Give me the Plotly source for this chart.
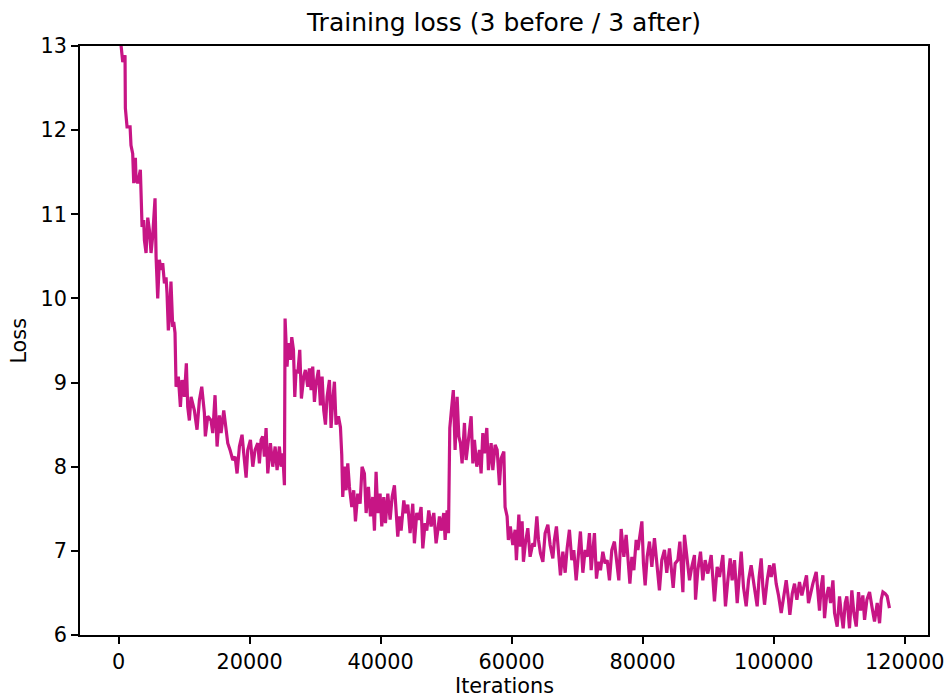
import plotly.graph_objects as go

# Loss curve, read in four stretches separated by the restarts
iter_a = [0, 380, 640, 990, 1040, 1300, 1760, 1900, 2160, 2320, 2570, 2670, 2930, 3330, 3440, 3590,
          3840, 3950, 4200, 4460, 4710, 4960, 5200, 5570, 5730, 5980, 6230, 6490, 6740, 7000, 7250,
          7400, 7600, 7760, 8000, 8270, 8420, 8620, 8780, 9130, 9440, 9690, 10050, 10350, 10560,
          10810, 11070, 11570, 11980, 12340, 12700, 13100, 13250, 13620, 14120, 14380, 14730, 15040,
          15390, 15650, 16060, 16410, 16670, 17020, 17430, 17790, 18090, 18450, 18850, 19110, 19470,
          19720, 20130, 20490, 20840, 21250, 21500, 21760, 22010, 22260, 22520, 22780, 23180, 23540,
          23900, 24200, 24550, 24810, 25060, 25320]
loss_a = [13.3, 13.0, 12.81, 12.89, 12.26, 12.04, 12.04, 11.82, 11.72, 11.37, 11.67, 11.41, 11.37,
          11.53, 11.29, 10.85, 10.93, 10.69, 10.54, 10.96, 10.81, 10.54, 10.73, 11.19, 10.49, 10.0,
          10.46, 10.34, 10.42, 10.18, 10.25, 10.06, 9.62, 9.74, 10.2, 9.66, 9.72, 9.59, 8.95, 9.07,
          8.71, 9.03, 8.83, 9.23, 8.71, 8.55, 8.83, 8.67, 8.44, 8.79, 8.95, 8.64, 8.36, 8.6, 8.55,
          8.4, 8.85, 8.24, 8.61, 8.4, 8.67, 8.47, 8.28, 8.2, 8.08, 8.12, 7.92, 8.24, 8.38, 8.16, 7.87,
          8.2, 8.32, 8.0, 8.2, 8.28, 8.04, 8.32, 8.36, 8.12, 8.46, 7.92, 8.28, 8.0, 8.24, 7.96, 8.24,
          8.0, 8.16, 7.78]

iter_b = [25420, 25720, 25930, 26230, 26440, 26700, 26900, 27100, 27360, 27660, 27910, 28270, 28520,
          28880, 29130, 29390, 29640, 29900, 30150, 30510, 30810, 31070, 31320, 31580, 31830, 32190,
          32440, 32700, 32950, 33200, 33560, 33870, 34070, 34220, 34480, 34730, 34990, 35240, 35600,
          35900, 36160, 36510, 36870, 37170, 37530, 37790, 38140, 38450, 38800, 39060, 39310, 39570,
          39920, 40180, 40480, 40740, 41100, 41450, 41760, 42110, 42370, 42620, 42880, 43130, 43540,
          43800, 44150, 44500, 44910, 45160, 45520, 45830, 46180, 46440, 46790, 47050, 47350, 47710,
          48120, 48470, 48730, 48980, 49240, 49640, 49850, 50150, 50360]
loss_b = [9.76, 9.19, 9.47, 9.27, 9.54, 9.39, 8.83, 9.15, 9.11, 9.39, 8.81, 9.07, 9.15, 8.95, 9.17,
          8.91, 9.19, 8.77, 8.99, 9.15, 8.73, 9.07, 8.67, 8.5, 8.83, 9.03, 8.46, 8.79, 9.01, 8.5, 8.6,
          8.47, 8.14, 7.64, 8.0, 7.72, 8.04, 7.76, 7.52, 7.72, 7.35, 7.68, 7.56, 8.0, 7.92, 7.45, 7.76,
          7.41, 7.64, 7.24, 7.94, 7.45, 7.68, 7.29, 7.64, 7.33, 7.68, 7.37, 7.64, 7.78, 7.52, 7.17,
          7.41, 7.24, 7.6, 7.45, 7.55, 7.21, 7.56, 7.09, 7.45, 7.37, 7.52, 7.03, 7.33, 7.24, 7.48,
          7.29, 7.45, 7.09, 7.24, 7.41, 7.24, 7.45, 7.13, 7.48, 7.21]

iter_c = [50560, 50760, 51100, 51370, 51680, 51940, 52180, 52440, 52800, 53050, 53400, 53820, 54080,
          54320, 54680, 55090, 55340, 55600, 55850, 56210, 56460, 56870, 57130, 57480, 57790, 58140,
          58400, 58810]
loss_c = [8.46, 8.63, 8.91, 8.2, 8.83, 8.36, 8.28, 8.04, 8.52, 8.08, 8.36, 8.6, 8.04, 8.32, 8.0, 8.2,
          7.92, 8.4, 8.16, 8.46, 7.96, 8.28, 7.96, 8.26, 8.2, 7.78, 8.1, 8.18]

iter_d = [59000, 59310, 59500, 59800, 60180, 60530, 60730, 61100, 61340, 61600, 61800, 62100, 62470,
          62820, 63240, 63480, 63850, 64100, 64400, 64770, 65110, 65530, 65880, 66290, 66530, 66840,
          67150, 67450, 67820, 68170, 68470, 68820, 69180, 69490, 69850, 70200, 70500, 70870, 71220,
          71530, 71880, 72140, 72640, 72950, 73250, 73560, 73920, 74270, 74580, 74930, 75290, 75690,
          76050, 76360, 76720, 77130, 77480, 77740, 78050, 78350, 78660, 79010, 79270, 79880, 80120,
          80380, 80690, 81040, 81400, 81800, 82160, 82560, 82920, 83330, 83680, 84090, 84350, 84660,
          84960, 85370, 85680, 85880, 86140, 86380, 86790, 87150, 87500, 87910, 88070, 88420, 88830,
          89180, 89540, 89950, 90460, 90960, 91370, 91730, 92240, 92640, 93000, 93360, 93660, 94020,
          94430, 94780, 95040, 95390, 95800, 96160, 96560, 96970, 97480, 97780, 98090, 98350, 98600,
          99010, 99370, 99620, 100030, 100380, 100740, 101150, 101560, 101910, 102260, 102470, 102830,
          103180, 103540, 103940, 104300, 104700, 105010, 105310, 105730, 105980, 106490, 106750,
          106990, 107250, 107510, 107760, 108070, 108370, 108680, 109040, 109290, 109690, 110050,
          110310, 110610, 110920, 111170, 111570, 111930, 112240, 112600, 112950, 113260, 113610,
          113870, 114230, 114630, 114990, 115390, 115800, 116160, 116410, 116670, 117020, 117320,
          117670]
loss_d = [7.52, 7.41, 7.13, 7.29, 7.07, 7.25, 6.89, 7.43, 7.05, 7.35, 6.87, 7.09, 7.27, 6.93, 7.09,
          7.05, 7.41, 7.13, 6.97, 6.87, 7.21, 7.31, 7.07, 6.91, 7.13, 7.29, 6.99, 6.71, 6.99, 6.74,
          7.03, 7.25, 6.89, 7.01, 6.65, 6.99, 7.23, 6.74, 7.01, 6.93, 7.21, 6.77, 7.21, 6.67, 6.87,
          6.77, 6.99, 6.85, 6.89, 6.65, 7.01, 7.11, 6.87, 6.65, 7.26, 6.93, 7.19, 6.87, 6.61, 6.93,
          6.77, 7.13, 7.01, 7.35, 6.85, 6.59, 6.93, 7.11, 6.81, 7.15, 6.85, 6.53, 6.89, 7.01, 6.74,
          7.03, 6.81, 6.56, 6.85, 6.89, 7.11, 6.77, 6.51, 7.19, 6.85, 6.65, 6.81, 6.95, 6.42, 6.77,
          6.99, 6.65, 6.89, 6.73, 6.95, 6.4, 6.81, 6.69, 6.95, 6.34, 6.65, 6.91, 6.65, 6.89, 6.38,
          6.69, 6.99, 6.57, 6.34, 6.65, 6.83, 6.61, 6.34, 6.69, 6.91, 6.57, 6.36, 6.65, 6.83, 6.69,
          6.85, 6.61, 6.47, 6.26, 6.49, 6.65, 6.42, 6.24, 6.49, 6.61, 6.42, 6.63, 6.47, 6.61, 6.71,
          6.38, 6.53, 6.61, 6.75, 6.49, 6.29, 6.57, 6.71, 6.2, 6.46, 6.57, 6.38, 6.65, 6.26, 6.1,
          6.46, 6.26, 6.08, 6.38, 6.46, 6.08, 6.53, 6.26, 6.1, 6.51, 6.29, 6.47, 6.18, 6.42, 6.51,
          6.34, 6.16, 6.38, 6.14, 6.42, 6.51, 6.49, 6.46, 6.32]

iterations = iter_a + iter_b + iter_c + iter_d
loss = loss_a + loss_b + loss_c + loss_d

x_ticks = [0, 20000, 40000, 60000, 80000, 100000, 120000]
y_ticks = [6, 7, 8, 9, 10, 11, 12, 13]

FONT = "DejaVu Sans"
TICK_SIZE = 20.8
LINE_COLOR = "#C71585"

fig = go.Figure()
fig.add_trace(go.Scatter(
    x=iterations, y=loss, mode="lines",
    line=dict(color=LINE_COLOR, width=3.2),
    showlegend=False, hoverinfo="skip",
))

span = max(iterations) - min(iterations)
pad = 0.05 * span

axis_common = dict(
    showgrid=False, zeroline=False, automargin=False,
    showline=True, mirror=True, linecolor="black", linewidth=1.7,
    ticks="outside", ticklen=7, tickwidth=1.7, tickcolor="black",
    tickfont=dict(family=FONT, size=TICK_SIZE, color="black"),
    ticklabeloverflow="allow",
)

fig.update_layout(
    width=944, height=698,
    margin=dict(l=80, r=16, t=46, b=63),
    paper_bgcolor="white", plot_bgcolor="white",
    font=dict(family=FONT, color="black"),
    title=dict(text="Training loss (3 before / 3 after)", x=0.5339, xanchor="center",
               y=1 - 22 / 698, yanchor="middle", yref="container",
               font=dict(family=FONT, size=25, color="black")),
    xaxis=dict(range=[min(iterations) - pad, max(iterations) + pad],
               tickvals=x_ticks, ticktext=[str(v) for v in x_ticks],
               **axis_common),
    yaxis=dict(range=[6, 13], tickvals=y_ticks, **axis_common),
    annotations=[
        dict(text="Iterations", xref="paper", yref="paper", x=0.5, y=-0.086,
             xanchor="center", yanchor="middle", showarrow=False,
             font=dict(family=FONT, size=TICK_SIZE, color="black")),
        dict(text="Loss", xref="paper", yref="paper", x=-0.073, y=0.5,
             xanchor="center", yanchor="middle", textangle=-90, showarrow=False,
             font=dict(family=FONT, size=TICK_SIZE, color="black")),
    ],
)

fig.write_html("out.html")
